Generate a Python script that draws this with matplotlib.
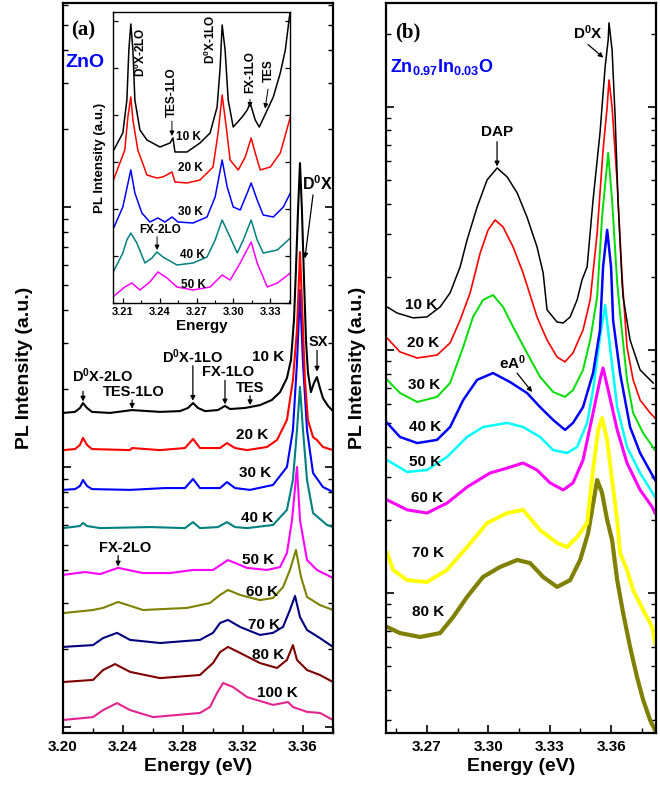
import numpy as np
import matplotlib
matplotlib.use("Agg")
import matplotlib.pyplot as plt
from matplotlib.ticker import MultipleLocator, LogLocator, NullFormatter, FormatStrFormatter

plt.rcParams["font.family"] = ["Liberation Sans", "DejaVu Sans"]
plt.rcParams["font.weight"] = "bold"
plt.rcParams["axes.labelweight"] = "bold"
plt.rcParams["mathtext.fontset"] = "custom"
plt.rcParams["mathtext.rm"] = "Liberation Sans:bold"
plt.rcParams["mathtext.default"] = "rm"

# ---- panel (a): ZnO, log10 of PL intensity (a.u.) vs energy (eV) ----
e_a10 = [3.2000, 3.2080, 3.2113, 3.2133, 3.2160, 3.2193, 3.2313, 3.2460, 3.2647, 3.2780,
         3.2833, 3.2867, 3.2900, 3.2947, 3.3033, 3.3080, 3.3113, 3.3213, 3.3313, 3.3393,
         3.3447, 3.3493, 3.3520, 3.3540, 3.3553, 3.3567, 3.3580, 3.3593, 3.3607, 3.3620,
         3.3633, 3.3653, 3.3673, 3.3693, 3.3713, 3.3733, 3.3767, 3.3800]
lg_a10 = [1.208, 1.212, 1.227, 1.246, 1.227, 1.212, 1.208, 1.219, 1.212, 1.215,
          1.227, 1.246, 1.227, 1.215, 1.219, 1.235, 1.223, 1.227, 1.238, 1.258,
          1.288, 1.342, 1.412, 1.565, 1.758, 1.988, 2.169, 1.988, 1.719, 1.488,
          1.365, 1.288, 1.323, 1.346, 1.304, 1.265, 1.235, 1.215]

e_a20 = [3.2000, 3.2080, 3.2113, 3.2133, 3.2160, 3.2193, 3.2447, 3.2460, 3.2647, 3.2813,
         3.2867, 3.2913, 3.3047, 3.3093, 3.3147, 3.3227, 3.3360, 3.3427, 3.3493, 3.3533,
         3.3560, 3.3580, 3.3600, 3.3613, 3.3633, 3.3667, 3.3693, 3.3733, 3.3800]
lg_a20 = [1.065, 1.069, 1.085, 1.112, 1.085, 1.069, 1.065, 1.073, 1.065, 1.073,
          1.108, 1.073, 1.073, 1.092, 1.073, 1.065, 1.077, 1.104, 1.181, 1.335,
          1.527, 1.827, 1.527, 1.335, 1.181, 1.115, 1.104, 1.077, 1.065]

e_a30 = [3.2000, 3.2080, 3.2113, 3.2133, 3.2160, 3.2193, 3.2447, 3.2680, 3.2813, 3.2867,
         3.2913, 3.3047, 3.3093, 3.3147, 3.3247, 3.3400, 3.3493, 3.3533, 3.3560, 3.3580,
         3.3600, 3.3627, 3.3667, 3.3733, 3.3800]
lg_a30 = [0.912, 0.915, 0.927, 0.950, 0.927, 0.915, 0.912, 0.919, 0.919, 0.954,
          0.919, 0.919, 0.942, 0.919, 0.912, 0.931, 1.000, 1.142, 1.400, 1.681,
          1.400, 1.142, 0.977, 0.923, 0.904]

e_a40 = [3.2000, 3.2113, 3.2133, 3.2160, 3.2247, 3.2580, 3.2813, 3.2867, 3.2913, 3.3033,
         3.3093, 3.3147, 3.3227, 3.3400, 3.3493, 3.3533, 3.3560, 3.3580, 3.3600, 3.3627,
         3.3667, 3.3760, 3.3800]
lg_a40 = [0.765, 0.773, 0.785, 0.773, 0.765, 0.769, 0.765, 0.788, 0.765, 0.769,
          0.788, 0.769, 0.765, 0.777, 0.835, 0.950, 1.142, 1.308, 1.142, 0.950,
          0.823, 0.777, 0.769]

e_a50 = [3.2000, 3.2147, 3.2247, 3.2367, 3.2533, 3.2713, 3.2867, 3.3000, 3.3100, 3.3227,
         3.3360, 3.3447, 3.3493, 3.3527, 3.3560, 3.3580, 3.3627, 3.3693, 3.3800]
lg_a50 = [0.585, 0.596, 0.588, 0.612, 0.592, 0.592, 0.604, 0.604, 0.642, 0.612,
          0.604, 0.615, 0.669, 0.796, 1.000, 0.796, 0.642, 0.604, 0.573]

e_a60 = [3.2000, 3.2200, 3.2267, 3.2367, 3.2533, 3.2827, 3.2980, 3.3047, 3.3100, 3.3180,
         3.3313, 3.3400, 3.3467, 3.3513, 3.3553, 3.3587, 3.3627, 3.3713, 3.3800]
lg_a60 = [0.438, 0.450, 0.458, 0.481, 0.450, 0.458, 0.477, 0.508, 0.527, 0.508,
          0.488, 0.496, 0.538, 0.604, 0.681, 0.577, 0.500, 0.469, 0.450]

e_a70 = [3.2000, 3.2200, 3.2267, 3.2360, 3.2447, 3.2647, 3.2913, 3.3000, 3.3047, 3.3100,
         3.3180, 3.3313, 3.3400, 3.3467, 3.3513, 3.3547, 3.3580, 3.3627, 3.3713, 3.3800]
lg_a70 = [0.308, 0.315, 0.342, 0.362, 0.335, 0.323, 0.335, 0.362, 0.400, 0.412,
          0.385, 0.354, 0.362, 0.385, 0.450, 0.504, 0.423, 0.373, 0.342, 0.308]

e_a80 = [3.2000, 3.2200, 3.2267, 3.2347, 3.2447, 3.2647, 3.2913, 3.3000, 3.3047, 3.3100,
         3.3180, 3.3313, 3.3427, 3.3493, 3.3533, 3.3560, 3.3627, 3.3713, 3.3800]
lg_a80 = [0.173, 0.181, 0.219, 0.242, 0.212, 0.188, 0.200, 0.246, 0.288, 0.308,
          0.285, 0.246, 0.227, 0.258, 0.315, 0.258, 0.219, 0.200, 0.173]

e_a100 = [3.2000, 3.2200, 3.2267, 3.2360, 3.2447, 3.2600, 3.2913, 3.2980, 3.3027, 3.3067,
          3.3133, 3.3227, 3.3400, 3.3500, 3.3533, 3.3627, 3.3713, 3.3800]
lg_a100 = [0.027, 0.038, 0.065, 0.092, 0.065, 0.038, 0.054, 0.077, 0.131, 0.169,
           0.154, 0.115, 0.085, 0.096, 0.077, 0.058, 0.054, 0.027]

temps_a = ["10 K", "20 K", "30 K", "40 K", "50 K", "60 K", "70 K", "80 K", "100 K"]
colors_a = ["black", "red", "blue", "#008080", "#ff00ff", "#808000", "#000080", "#800000", "#e3238f"]

# ---- inset of panel (a): linear PL intensity (a.u.) ----
e_in10 = [3.2018, 3.2100, 3.2133, 3.2149, 3.2165, 3.2182, 3.2198, 3.2239, 3.2296, 3.2402,
          3.2484, 3.2508, 3.2524, 3.2622, 3.2728, 3.2810, 3.2867, 3.2892, 3.2908, 3.2932,
          3.2957, 3.2998, 3.3071, 3.3112, 3.3136, 3.3177, 3.3210, 3.3275, 3.3324, 3.3381,
          3.3422, 3.3455, 3.3470]
i_in10 = [151, 170, 203, 253, 279, 253, 203, 173, 163, 156,
          160, 165, 151, 151, 160, 170, 196, 236, 278, 253,
          203, 176, 186, 193, 200, 183, 176, 193, 206, 230,
          253, 286, 300]
e_in20 = [3.2018, 3.2116, 3.2141, 3.2165, 3.2182, 3.2222, 3.2296, 3.2377, 3.2426, 3.2500,
          3.2524, 3.2622, 3.2728, 3.2834, 3.2875, 3.2908, 3.2941, 3.2973, 3.3039, 3.3096,
          3.3144, 3.3177, 3.3218, 3.3300, 3.3381, 3.3463]
i_in20 = [121, 153, 186, 206, 183, 153, 128, 125, 126, 131,
          121, 120, 123, 136, 170, 208, 176, 143, 133, 146,
          165, 150, 133, 136, 150, 186]
e_in30 = [3.2018, 3.2100, 3.2165, 3.2198, 3.2255, 3.2320, 3.2385, 3.2443, 3.2500, 3.2549,
          3.2671, 3.2785, 3.2851, 3.2908, 3.2949, 3.2998, 3.3055, 3.3112, 3.3144, 3.3193,
          3.3242, 3.3324, 3.3406, 3.3463]
i_in30 = [73, 96, 133, 110, 90, 81, 85, 81, 86, 81,
          80, 86, 106, 143, 116, 96, 93, 110, 120, 103,
          88, 86, 96, 110]
e_in40 = [3.2018, 3.2100, 3.2133, 3.2165, 3.2214, 3.2280, 3.2337, 3.2377, 3.2426, 3.2541,
          3.2671, 3.2785, 3.2851, 3.2908, 3.2957, 3.3031, 3.3080, 3.3144, 3.3193, 3.3242,
          3.3357, 3.3463]
i_in40 = [30, 50, 63, 70, 60, 40, 45, 51, 46, 38,
          40, 46, 63, 83, 70, 50, 63, 83, 63, 50,
          53, 65]
e_in50 = [3.2018, 3.2116, 3.2174, 3.2239, 3.2320, 3.2385, 3.2459, 3.2541, 3.2671, 3.2810,
          3.2908, 3.2973, 3.3055, 3.3144, 3.3193, 3.3275, 3.3357, 3.3463]
i_in50 = [6, 16, 20, 13, 21, 31, 25, 16, 13, 16,
          28, 23, 40, 61, 40, 16, 20, 30]

# ---- panel (b): Zn0.97In0.03O, log10 of PL intensity (a.u.) ----
e_b10 = [3.2505, 3.2554, 3.2632, 3.2700, 3.2764, 3.2813, 3.2862, 3.2896, 3.2945, 3.2994,
         3.3043, 3.3092, 3.3141, 3.3189, 3.3238, 3.3268, 3.3287, 3.3336, 3.3366, 3.3400,
         3.3434, 3.3458, 3.3483, 3.3512, 3.3546, 3.3571, 3.3586, 3.3590, 3.3605, 3.3620,
         3.3634, 3.3654, 3.3659, 3.3693, 3.3742, 3.3806]
lg_b10 = [2.177, 2.152, 2.132, 2.136, 2.177, 2.235, 2.342, 2.453, 2.588, 2.700,
          2.749, 2.712, 2.646, 2.547, 2.424, 2.317, 2.165, 2.115, 2.111, 2.136,
          2.206, 2.288, 2.342, 2.617, 2.893, 3.165, 3.276, 3.346, 3.235, 2.959,
          2.617, 2.276, 2.218, 2.041, 1.918, 1.864]

e_b20 = [3.2505, 3.2568, 3.2652, 3.2749, 3.2813, 3.2862, 3.2911, 3.2960, 3.2999, 3.3033,
         3.3072, 3.3121, 3.3170, 3.3238, 3.3287, 3.3336, 3.3375, 3.3414, 3.3463, 3.3498,
         3.3532, 3.3561, 3.3581, 3.3590, 3.3605, 3.3630, 3.3654, 3.3678, 3.3708, 3.3742,
         3.3791, 3.3815]
lg_b20 = [2.049, 1.992, 1.967, 1.979, 2.029, 2.123, 2.235, 2.399, 2.494, 2.535,
          2.506, 2.424, 2.317, 2.136, 2.041, 1.971, 1.951, 1.988, 2.082, 2.206,
          2.481, 2.823, 3.000, 3.111, 3.000, 2.687, 2.300, 2.012, 1.877, 1.794,
          1.741, 1.720]

e_b30 = [3.2505, 3.2568, 3.2652, 3.2749, 3.2813, 3.2877, 3.2925, 3.2974, 3.3023, 3.3072,
         3.3121, 3.3189, 3.3253, 3.3317, 3.3375, 3.3414, 3.3463, 3.3498, 3.3532, 3.3556,
         3.3586, 3.3605, 3.3630, 3.3644, 3.3678, 3.3708, 3.3757, 3.3815]
lg_b30 = [1.877, 1.823, 1.786, 1.807, 1.864, 2.012, 2.136, 2.206, 2.226, 2.177,
          2.095, 1.988, 1.889, 1.827, 1.807, 1.835, 1.918, 2.041, 2.218, 2.547,
          2.811, 2.617, 2.276, 2.152, 1.877, 1.741, 1.658, 1.588]

e_b40 = [3.2505, 3.2568, 3.2652, 3.2749, 3.2813, 3.2877, 3.2945, 3.3023, 3.3106, 3.3189,
         3.3253, 3.3317, 3.3375, 3.3414, 3.3463, 3.3512, 3.3546, 3.3561, 3.3581, 3.3600,
         3.3610, 3.3644, 3.3693, 3.3742, 3.3815]
lg_b40 = [1.700, 1.642, 1.617, 1.630, 1.683, 1.794, 1.877, 1.905, 1.868, 1.823,
          1.765, 1.712, 1.671, 1.700, 1.765, 1.905, 2.082, 2.342, 2.494, 2.342,
          2.123, 1.905, 1.683, 1.576, 1.465]

e_b50 = [3.2505, 3.2603, 3.2700, 3.2798, 3.2896, 3.2974, 3.3092, 3.3170, 3.3253, 3.3317,
         3.3385, 3.3434, 3.3483, 3.3512, 3.3546, 3.3571, 3.3595, 3.3630, 3.3678, 3.3742,
         3.3815]
lg_b50 = [1.547, 1.498, 1.506, 1.560, 1.642, 1.683, 1.700, 1.683, 1.642, 1.588,
          1.576, 1.601, 1.700, 1.835, 2.053, 2.185, 2.012, 1.765, 1.601, 1.494,
          1.395]

e_b60 = [3.2505, 3.2603, 3.2700, 3.2798, 3.2896, 3.3009, 3.3092, 3.3170, 3.3238, 3.3302,
         3.3366, 3.3414, 3.3463, 3.3512, 3.3546, 3.3561, 3.3586, 3.3630, 3.3678, 3.3742,
         3.3801, 3.3815]
lg_b60 = [1.383, 1.342, 1.329, 1.370, 1.436, 1.494, 1.514, 1.535, 1.506, 1.453,
          1.424, 1.453, 1.547, 1.741, 1.877, 1.926, 1.835, 1.671, 1.535, 1.424,
          1.354, 1.329]

e_b70 = [3.2505, 3.2534, 3.2603, 3.2700, 3.2798, 3.2896, 3.2994, 3.3092, 3.3170, 3.3253,
         3.3336, 3.3385, 3.3434, 3.3483, 3.3512, 3.3537, 3.3556, 3.3581, 3.3605, 3.3630,
         3.3644, 3.3678, 3.3708, 3.3757, 3.3801, 3.3815]
lg_b70 = [1.165, 1.095, 1.053, 1.045, 1.095, 1.189, 1.288, 1.329, 1.342, 1.259,
          1.206, 1.189, 1.230, 1.288, 1.506, 1.671, 1.720, 1.630, 1.465, 1.300,
          1.165, 1.095, 1.012, 0.930, 0.860, 0.794]

e_b80 = [3.2505, 3.2568, 3.2666, 3.2764, 3.2828, 3.2896, 3.2974, 3.3057, 3.3141, 3.3204,
         3.3268, 3.3336, 3.3400, 3.3449, 3.3488, 3.3532, 3.3556, 3.3581, 3.3605, 3.3630,
         3.3659, 3.3693, 3.3727, 3.3757, 3.3791, 3.3815]
lg_b80 = [0.860, 0.835, 0.819, 0.835, 0.901, 0.984, 1.066, 1.107, 1.136, 1.123,
          1.066, 1.025, 1.053, 1.136, 1.247, 1.465, 1.412, 1.300, 1.218, 1.053,
          0.918, 0.778, 0.654, 0.560, 0.477, 0.436]

temps_b = ["10 K", "20 K", "30 K", "40 K", "50 K", "60 K", "70 K", "80 K"]
colors_b = ["black", "red", "#00dd00", "blue", "#00ffff", "#ff00ff", "#ffff00", "#808000"]
widths_b = [1.1, 1.2, 1.4, 1.8, 1.8, 2.2, 2.8, 3.0]


def style_log_axis(ax):
    ax.set_yscale("log")
    ax.yaxis.set_major_locator(LogLocator(base=10))
    ax.yaxis.set_minor_locator(LogLocator(base=10, subs=np.arange(2, 10)))
    ax.yaxis.set_major_formatter(NullFormatter())
    ax.yaxis.set_minor_formatter(NullFormatter())
    ax.tick_params(which="both", direction="in", left=True, right=True, top=False)
    ax.tick_params(which="major", length=6, width=1.2, labelsize=11, pad=5)
    ax.tick_params(which="minor", length=3.5, width=1)
    ax.xaxis.set_major_formatter(FormatStrFormatter("%.2f"))
    for sp in ax.spines.values():
        sp.set_linewidth(1.6)


def arrow(ax, tail, head, lw=0.9):
    ax.annotate("", xy=head, xytext=tail, xycoords="axes fraction", textcoords="axes fraction",
                arrowprops=dict(arrowstyle="-|>", color="black", lw=lw, mutation_scale=7,
                                shrinkA=0, shrinkB=0))


fig = plt.figure(figsize=(6.6, 7.93), dpi=100)
ax_a = fig.add_axes([0.0955, 0.0757, 0.409, 0.9206])
ax_b = fig.add_axes([0.585, 0.0757, 0.409, 0.9206])

# panel (a)
series_a = [(e_a10, lg_a10), (e_a20, lg_a20), (e_a30, lg_a30), (e_a40, lg_a40), (e_a50, lg_a50),
            (e_a60, lg_a60), (e_a70, lg_a70), (e_a80, lg_a80), (e_a100, lg_a100)]
for (e, lg), c in zip(series_a[::-1], colors_a[::-1]):
    ax_a.plot(e, 10 ** np.array(lg), color=c, lw=1.5)
style_log_axis(ax_a)
ax_a.set_xlim(3.20, 3.38)
ax_a.set_ylim(10 ** -0.023, 10 ** 2.785)
ax_a.xaxis.set_major_locator(MultipleLocator(0.04))
ax_a.xaxis.set_minor_locator(MultipleLocator(0.02))
ax_a.set_xlabel("Energy (eV)", fontsize=14, labelpad=3)

t_pos_a = [(0.759, 0.515), (0.700, 0.408), (0.711, 0.356), (0.719, 0.295), (0.722, 0.237),
           (0.737, 0.193), (0.744, 0.148), (0.759, 0.107), (0.793, 0.055)]
for t, (x, y) in zip(temps_a, t_pos_a):
    ax_a.text(x, y, t, transform=ax_a.transAxes, ha="center", va="center", fontsize=11)

ax_a.text(0.148, 0.489, "D$^{0}$X-2LO", transform=ax_a.transAxes, ha="center", va="center", fontsize=10.5)
arrow(ax_a, (0.074, 0.468), (0.074, 0.454))
ax_a.text(0.262, 0.467, "TES-1LO", transform=ax_a.transAxes, ha="center", va="center", fontsize=10.5)
arrow(ax_a, (0.256, 0.456), (0.256, 0.444))
ax_a.text(0.481, 0.515, "D$^{0}$X-1LO", transform=ax_a.transAxes, ha="center", va="center", fontsize=10.5)
arrow(ax_a, (0.481, 0.503), (0.481, 0.455))
ax_a.text(0.611, 0.495, "FX-1LO", transform=ax_a.transAxes, ha="center", va="center", fontsize=10.5)
arrow(ax_a, (0.600, 0.483), (0.600, 0.450))
ax_a.text(0.693, 0.473, "TES", transform=ax_a.transAxes, ha="center", va="center", fontsize=10.5)
arrow(ax_a, (0.693, 0.462), (0.693, 0.449))
ax_a.text(0.944, 0.536, "SX", transform=ax_a.transAxes, ha="center", va="center", fontsize=10.5)
arrow(ax_a, (0.941, 0.524), (0.941, 0.495))
ax_a.text(0.944, 0.753, "D$^{0}$X", transform=ax_a.transAxes, ha="center", va="center", fontsize=11.5)
arrow(ax_a, (0.926, 0.737), (0.896, 0.650))
ax_a.text(0.230, 0.253, "FX-2LO", transform=ax_a.transAxes, ha="center", va="center", fontsize=10.5)
arrow(ax_a, (0.204, 0.243), (0.204, 0.228))
ax_a.text(0.074, 0.962, "(a)", transform=ax_a.transAxes, ha="center", va="center", fontsize=15,
          family="Liberation Serif", fontweight="bold")
ax_a.text(0.081, 0.918, "ZnO", transform=ax_a.transAxes, ha="center", va="center", fontsize=14,
          color="blue")

# inset
ax_in = fig.add_axes([0.1712, 0.6179, 0.2682, 0.367])
series_in = [(e_in10, i_in10), (e_in20, i_in20), (e_in30, i_in30), (e_in40, i_in40), (e_in50, i_in50)]
for (e, i), c in zip(series_in[::-1], colors_a[4::-1]):
    ax_in.plot(e, i, color=c, lw=1.1)
ax_in.set_xlim(3.202, 3.346)
ax_in.set_ylim(0, 291)
ax_in.xaxis.set_major_locator(MultipleLocator(0.03))
ax_in.xaxis.set_minor_locator(MultipleLocator(0.015))
ax_in.xaxis.set_major_formatter(FormatStrFormatter("%.2f"))
ax_in.yaxis.set_major_locator(MultipleLocator(47))
ax_in.yaxis.set_major_formatter(NullFormatter())
ax_in.tick_params(which="both", direction="in", left=True, right=True, labelsize=8, pad=3)
ax_in.tick_params(which="major", length=3.5, width=0.9)
ax_in.tick_params(which="minor", length=2, width=0.8)
for sp in ax_in.spines.values():
    sp.set_linewidth(1.0)
ax_in.set_xlabel("Energy", fontsize=11, labelpad=1)
ax_in.set_ylabel("PL Intensity (a.u.)", fontsize=9.5, labelpad=2)

t_pos_in = [(0.429, 0.570), (0.435, 0.464), (0.435, 0.313), (0.446, 0.165), (0.452, 0.062)]
for t, (x, y) in zip(temps_a[:5], t_pos_in):
    ax_in.text(x, y, t, transform=ax_in.transAxes, ha="center", va="center", fontsize=8.5)
ax_in.text(0.153, 0.863, "D$^{0}$X-2LO", transform=ax_in.transAxes, ha="center", va="center",
           fontsize=8.5, rotation=90)
ax_in.text(0.333, 0.725, "TES-1LO", transform=ax_in.transAxes, ha="center", va="center",
           fontsize=8.5, rotation=90)
arrow(ax_in, (0.333, 0.625), (0.333, 0.574), lw=0.7)
ax_in.text(0.548, 0.905, "D$^{0}$X-1LO", transform=ax_in.transAxes, ha="center", va="center",
           fontsize=8.5, rotation=90)
ax_in.text(0.774, 0.794, "FX-1LO", transform=ax_in.transAxes, ha="center", va="center",
           fontsize=8.5, rotation=90)
arrow(ax_in, (0.774, 0.700), (0.774, 0.672), lw=0.7)
ax_in.text(0.881, 0.800, "TES", transform=ax_in.transAxes, ha="center", va="center",
           fontsize=8.5, rotation=90)
arrow(ax_in, (0.876, 0.735), (0.859, 0.668), lw=0.7)
ax_in.text(0.266, 0.251, "FX-2LO", transform=ax_in.transAxes, ha="center", va="center", fontsize=8.5)
arrow(ax_in, (0.249, 0.228), (0.249, 0.182), lw=0.7)

# panel (b)
series_b = [(e_b10, lg_b10), (e_b20, lg_b20), (e_b30, lg_b30), (e_b40, lg_b40),
            (e_b50, lg_b50), (e_b60, lg_b60), (e_b70, lg_b70), (e_b80, lg_b80)]
for (e, lg), c, w in zip(series_b[::-1], colors_b[::-1], widths_b[::-1]):
    ax_b.plot(e, 10 ** np.array(lg), color=c, lw=w)
style_log_axis(ax_b)
ax_b.set_xlim(3.25, 3.382)
ax_b.set_ylim(10 ** 0.424, 10 ** 3.428)
ax_b.xaxis.set_major_locator(MultipleLocator(0.03))
ax_b.xaxis.set_minor_locator(MultipleLocator(0.015))
ax_b.set_xlabel("Energy (eV)", fontsize=14, labelpad=3)

t_pos_b = [(0.130, 0.586), (0.137, 0.534), (0.141, 0.477), (0.144, 0.419), (0.144, 0.371),
           (0.152, 0.322), (0.156, 0.247), (0.156, 0.166)]
for t, (x, y) in zip(temps_b, t_pos_b):
    ax_b.text(x, y, t, transform=ax_b.transAxes, ha="center", va="center", fontsize=11)

ax_b.text(0.411, 0.823, "DAP", transform=ax_b.transAxes, ha="center", va="center", fontsize=11)
arrow(ax_b, (0.411, 0.810), (0.411, 0.776))
ax_b.text(0.748, 0.959, "D$^{0}$X", transform=ax_b.transAxes, ha="center", va="center", fontsize=11)
arrow(ax_b, (0.748, 0.943), (0.805, 0.925))
ax_b.text(0.470, 0.507, "eA$^{0}$", transform=ax_b.transAxes, ha="center", va="center", fontsize=11)
arrow(ax_b, (0.485, 0.493), (0.541, 0.467))
ax_b.text(0.081, 0.959, "(b)", transform=ax_b.transAxes, ha="center", va="center", fontsize=15,
          family="Liberation Serif", fontweight="bold")
ax_b.text(0.015, 0.912, "Zn$_{0.97}$In$_{0.03}$O", transform=ax_b.transAxes, ha="left",
          va="center", fontsize=13, color="blue")

fig.text(25 / 660, 1 - 368 / 793, "PL Intensity (a.u.)", rotation=90, ha="center", va="center",
         fontsize=14)
fig.text(357 / 660, 1 - 368 / 793, "PL Intensity (a.u.)", rotation=90, ha="center", va="center",
         fontsize=14)

fig.savefig("out.png", dpi=100)
plt.close(fig)
